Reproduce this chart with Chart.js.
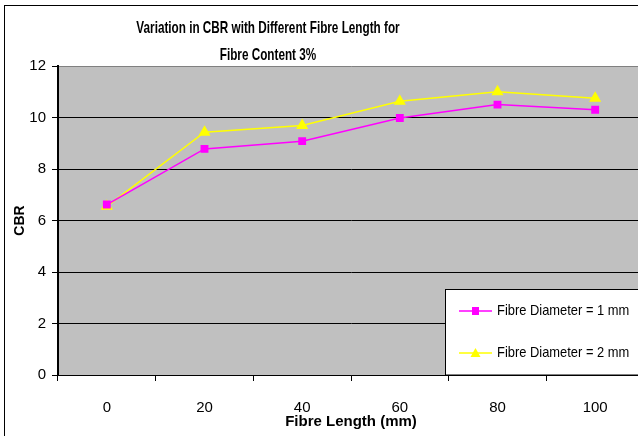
<!DOCTYPE html>
<html>
<head>
<meta charset="utf-8">
<script src="https://cdn.jsdelivr.net/npm/chart.js@4.4.0/dist/chart.umd.min.js"></script>
<style>
  html, body { margin: 0; padding: 0; background: #fff; overflow: hidden; }
  #wrap { position: absolute; left: 0; top: 0; width: 660px; height: 450px; }
</style>
</head>
<body>
<div id="wrap"><canvas id="cbrChart" width="660" height="450"></canvas></div>
<script>
const titleLines = ['Variation in CBR with Different Fibre Length for', 'Fibre Content 3%'];
const fibreLengths = ['0', '20', '40', '60', '80', '100'];
const cbrDia1 = [6.62, 8.78, 9.08, 9.98, 10.5, 10.3];
const cbrDia2 = [6.55, 9.43, 9.69, 10.63, 11.0, 10.75];
const seriesNames = ['Fibre Diameter = 1 mm', 'Fibre Diameter = 2 mm'];
const yTicks = [0, 2, 4, 6, 8, 10, 12];

const sans = "'Liberation Sans', Arial, sans-serif";

// text squeezed sideways, the original picture is condensed
function narrowText(ctx, text, x, y, font, squeeze, align) {
  ctx.save();
  ctx.font = font;
  ctx.fillStyle = '#000';
  ctx.textAlign = align || 'center';
  ctx.textBaseline = 'middle';
  ctx.translate(x, y);
  ctx.scale(squeeze, 1);
  ctx.fillText(text, 0, 0);
  ctx.restore();
}

// grey plot area + outer chart frame
const backdrop = {
  id: 'backdrop',
  beforeDraw(chart) {
    const { ctx, chartArea: a } = chart;
    ctx.save();
    ctx.fillStyle = '#c0c0c0';
    ctx.fillRect(a.left, a.top, a.right - a.left, a.bottom - a.top);
    ctx.strokeStyle = '#000';
    ctx.lineWidth = 1;
    ctx.strokeRect(4.5, 5.5, chart.width + 20, chart.height + 20);
    ctx.restore();
  }
};

// two-line title, centred where the original had it
const chartTitle = {
  id: 'chartTitle',
  afterDraw(chart) {
    const f = 'bold 17px ' + sans;
    narrowText(chart.ctx, titleLines[0], 268, 28, f, 0.69);
    narrowText(chart.ctx, titleLines[1], 268, 55, f, 0.69);
  }
};

// boxed legend sitting inside the plot, bottom right
const boxLegend = {
  id: 'boxLegend',
  afterDraw(chart) {
    const ctx = chart.ctx;
    const a = chart.chartArea;
    const x0 = 445.5, y0 = 289.5;
    ctx.save();
    ctx.fillStyle = '#fff';
    ctx.fillRect(x0, y0, chart.width - x0 + 5, a.bottom - y0);
    ctx.strokeStyle = '#000';
    ctx.lineWidth = 1;
    ctx.strokeRect(x0, y0, chart.width - x0 + 5, a.bottom - y0);
    chart.data.datasets.forEach((ds, i) => {
      const y = 311 + i * 42;
      ctx.strokeStyle = ds.borderColor;
      ctx.lineWidth = 1.5;
      ctx.beginPath();
      ctx.moveTo(459, y);
      ctx.lineTo(492, y);
      ctx.stroke();
      ctx.fillStyle = ds.pointBackgroundColor;
      ctx.beginPath();
      if (ds.pointStyle === 'rect') {
        ctx.rect(472, y - 4, 7, 8);
      } else {
        ctx.moveTo(475.5, y - 5);
        ctx.lineTo(480.5, y + 4);
        ctx.lineTo(470.5, y + 4);
        ctx.closePath();
      }
      ctx.fill();
      narrowText(ctx, ds.label, 497, y, '15px ' + sans, 0.86, 'left');
    });
    ctx.restore();
  }
};

new Chart(document.getElementById('cbrChart'), {
  type: 'line',
  data: {
    labels: fibreLengths,
    datasets: [
      {
        label: seriesNames[0],
        data: cbrDia1,
        borderColor: '#ff00ff',
        backgroundColor: '#ff00ff',
        pointBackgroundColor: '#ff00ff',
        pointBorderColor: '#ff00ff',
        pointStyle: 'rect',
        pointRadius: 4.5,
        borderWidth: 1.5,
        tension: 0
      },
      {
        label: seriesNames[1],
        data: cbrDia2,
        borderColor: '#ffff00',
        backgroundColor: '#ffff00',
        pointBackgroundColor: '#ffff00',
        pointBorderColor: '#ffff00',
        pointStyle: 'triangle',
        pointRadius: 5.5,
        borderWidth: 1.5,
        tension: 0
      }
    ]
  },
  options: {
    responsive: false,
    animation: false,
    layout: { padding: { left: 0, top: 66, right: 16, bottom: 0 } },
    plugins: {
      legend: { display: false },
      title: { display: false },
      tooltip: { enabled: false }
    },
    scales: {
      x: {
        offset: true,
        grid: {
          offset: true,
          drawOnChartArea: false,
          drawTicks: true,
          tickLength: 6,
          color: '#000'
        },
        border: { color: '#000', width: 1 },
        ticks: { color: '#000', font: { family: sans, size: 15 }, padding: 18 },
        title: {
          display: true,
          text: 'Fibre Length (mm)',
          color: '#000',
          font: { family: sans, size: 15, weight: 'bold' },
          padding: { top: 0, bottom: 19 }
        },
        afterFit(scale) { scale.height = 75; }
      },
      y: {
        min: 0,
        max: 12,
        afterBuildTicks(scale) { scale.ticks = yTicks.map(v => ({ value: v })); },
        grid: {
          color: ctx => (ctx.tick && ctx.tick.value === 12 ? '#808080' : '#000'),
          tickColor: '#000',
          tickLength: 6,
          lineWidth: 1
        },
        border: { color: '#000', width: 2 },
        ticks: { color: '#000', font: { family: sans, size: 15 }, padding: 6 },
        title: {
          display: true,
          text: 'CBR',
          color: '#000',
          font: { family: sans, size: 14, weight: 'bold' },
          padding: { top: 12, bottom: 0 }
        },
        afterFit(scale) { scale.width = 58; }
      }
    }
  },
  plugins: [backdrop, chartTitle, boxLegend]
});
</script>
</body>
</html>
